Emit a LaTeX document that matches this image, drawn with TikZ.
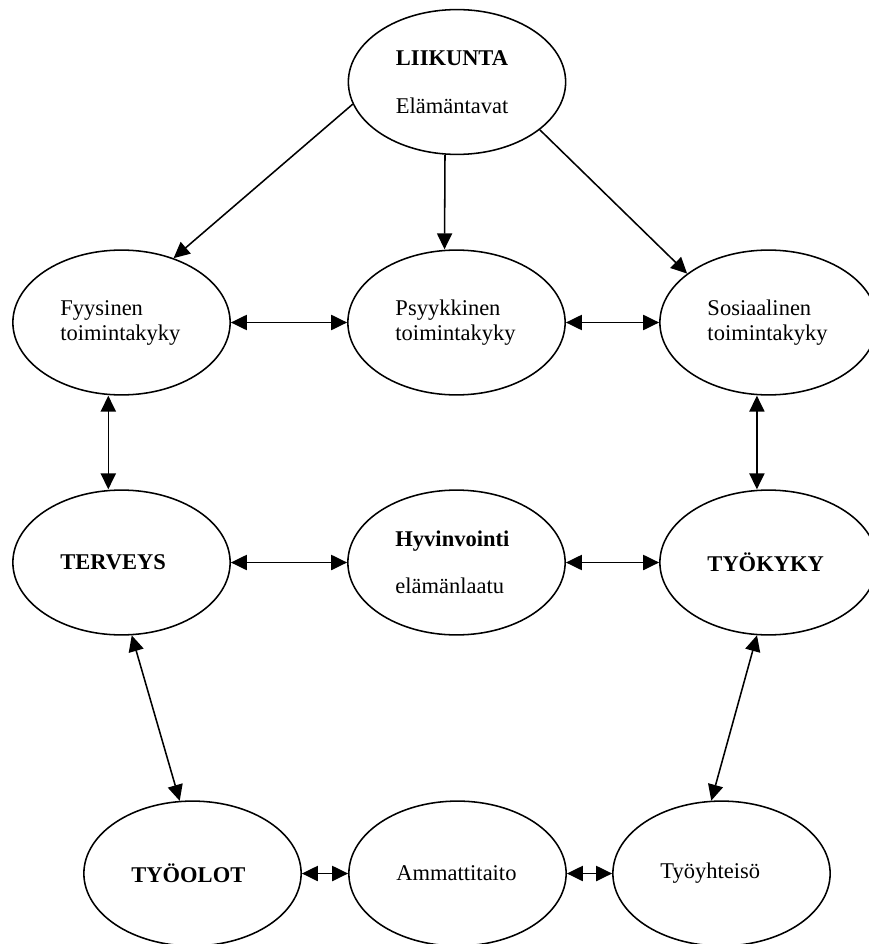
\documentclass[tikz,border=0pt]{standalone}
\usepackage{fontspec}
\setmainfont{Liberation Serif}
\usepackage{tikz}
\usetikzlibrary{arrows.meta, shapes.geometric}
\newcommand{\ovalwidth}{5.43cm}
\newcommand{\ovalheight}{3.62cm}
\tikzset{>={Triangle[length=0.4cm, width=0.38cm]},
  oval/.style={ellipse, draw, line width=1.1pt, minimum width=\ovalwidth, minimum height=\ovalheight,
    inner sep=0pt, text width=3.05cm, align=left, font=\fontsize{16}{17.8}\selectfont},
  link/.style={line width=1.1pt}}

\begin{document}
\begin{tikzpicture}[x=0.025cm, y=-0.025cm]
	\useasboundingbox (0,0) rectangle (868,944);

	\node[oval] (liik) at (457,82) {\textbf{LIIKUNTA}\\[16pt]Elämäntavat};

	\node[oval] (fyys) at (121.5,322.5) {Fyysinen\\toimintakyky};
	\node[oval] (psyk) at (456.5,322.5) {Psyykkinen\\toimintakyky};
	\node[oval] (sosi) at (768.5,322.5) {Sosiaalinen\\toimintakyky};

	\node[oval] (terv) at (121.5,562.5) {\textbf{TERVEYS}};
	\node[oval] (hyvi) at (456.5,562.5) {\textbf{Hyvinvointi}\\[16pt]elämänlaatu};
	\node[oval] (tyok) at (768.5,562.5) {\textbf{TYÖKYKY}};

	\node[oval] (tyoo) at (192.5,873.5) {\textbf{TYÖOLOT}};
	\node[oval] (amma) at (457.5,873.5) {Ammattitaito};
	\node[oval] (yhte) at (721.5,873.5) {Työyhteisö};

	% liikunta vaikuttaa kolmeen toimintakykyyn
	\draw[link, ->] (liik.192) -- (fyys.51);
	\draw[link, ->] ([xshift=-0.3cm]liik.south) -- ([xshift=-0.3cm]psyk.north);
	\draw[link, ->] (liik.-30) -- (sosi.149);

	% vaakasuorat yhteydet
	\draw[link, <->] (fyys.east) -- (psyk.west);
	\draw[link, <->] (psyk.east) -- (sosi.west);
	\draw[link, <->] (terv.east) -- (hyvi.west);
	\draw[link, <->] (hyvi.east) -- (tyok.west);
	\draw[link, <->] (tyoo.east) -- (amma.west);
	\draw[link, <->] (amma.east) -- (yhte.west);

	% pystysuorat ja vinot
	\draw[link, <->] ([xshift=-0.33cm]fyys.south) -- ([xshift=-0.33cm]terv.north);
	\draw[link, <->] ([xshift=-0.29cm]sosi.south) -- ([xshift=-0.29cm]tyok.north);
	\draw[link, <->] (terv.-82) -- (tyoo.100);
	\draw[link, <->] (tyok.-99) -- (yhte.98);
\end{tikzpicture}
\end{document}
